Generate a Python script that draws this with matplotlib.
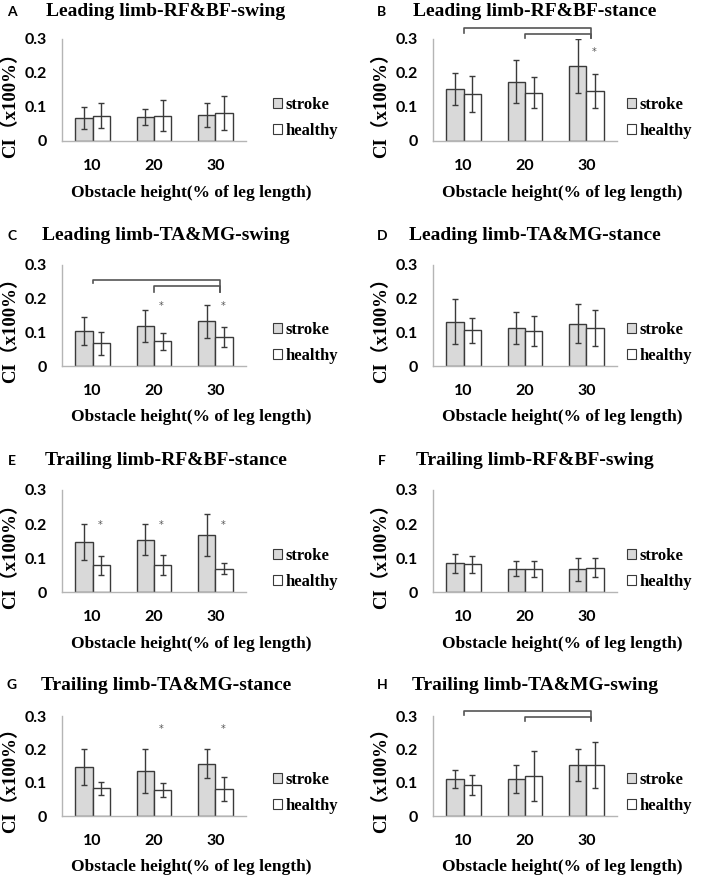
import numpy as np
import matplotlib
matplotlib.use('Agg')
import matplotlib.pyplot as plt
from matplotlib.patches import Patch

heights = ['10', '20', '30']
letters = ['A', 'B', 'C', 'D', 'E', 'F', 'G', 'H']
titles = ['Leading limb-RF&BF-swing', 'Leading limb-RF&BF-stance',
          'Leading limb-TA&MG-swing', 'Leading limb-TA&MG-stance',
          'Trailing limb-RF&BF-stance', 'Trailing limb-RF&BF-swing',
          'Trailing limb-TA&MG-stance', 'Trailing limb-TA&MG-swing']

stroke_mean = [[0.068, 0.071, 0.077], [0.153, 0.174, 0.220],
               [0.103, 0.119, 0.133], [0.131, 0.113, 0.126],
               [0.147, 0.154, 0.167], [0.084, 0.069, 0.067],
               [0.147, 0.135, 0.157], [0.111, 0.111, 0.153]]
stroke_sd = [[0.032, 0.024, 0.035], [0.046, 0.063, 0.080],
             [0.042, 0.048, 0.049], [0.067, 0.048, 0.057],
             [0.054, 0.045, 0.061], [0.027, 0.023, 0.034],
             [0.054, 0.066, 0.043], [0.027, 0.042, 0.048]]
healthy_mean = [[0.075, 0.075, 0.082], [0.137, 0.142, 0.147],
                [0.067, 0.074, 0.086], [0.106, 0.104, 0.113],
                [0.079, 0.079, 0.069], [0.082, 0.067, 0.072],
                [0.083, 0.078, 0.081], [0.093, 0.121, 0.154]]
healthy_sd = [[0.036, 0.045, 0.050], [0.053, 0.046, 0.051],
              [0.033, 0.025, 0.031], [0.037, 0.045, 0.053],
              [0.028, 0.029, 0.016], [0.025, 0.024, 0.027],
              [0.020, 0.022, 0.035], [0.031, 0.075, 0.069]]

# significance stars: (group index, y)
stars = [[], [(2, 0.262)], [(1, 0.178), (2, 0.178)], [],
         [(0, 0.198), (1, 0.198), (2, 0.198)], [],
         [(1, 0.262), (2, 0.262)], []]
# brackets: (left group, top y, left drop y, right drop y)
brackets = [[], [(0, 0.332, 0.318, 0.303), (1, 0.315, 0.303, 0.303)],
            [(0, 0.255, 0.246, 0.220), (1, 0.237, 0.220, 0.220)], [],
            [], [], [],
            [(0, 0.315, 0.303, 0.291), (1, 0.297, 0.285, 0.285)]]

W, H = 707, 876
fig = plt.figure(figsize=(W / 100, H / 100), dpi=100)

col_x = [62, 433]
row_y = [(39, 141), (265, 366), (490, 592), (716, 816)]
title_y = [12, 236, 461, 685]
serif = ['Liberation Serif', 'Noto Sans CJK SC', 'DejaVu Sans']
sans = 'Lato'
x = np.arange(3)
bw = 0.285

for i in range(8):
    r, c = divmod(i, 2)
    top, bot = row_y[r]
    ax = fig.add_axes([col_x[c] / W, 1 - bot / H, 184 / W, (bot - top) / H])
    ax.bar(x - bw / 2, stroke_mean[i], bw, color='#d9d9d9', edgecolor='#3a3a3a', lw=1, zorder=2)
    ax.bar(x + bw / 2, healthy_mean[i], bw, color='white', edgecolor='#3a3a3a', lw=1, zorder=2)
    ax.errorbar(x - bw / 2, stroke_mean[i], yerr=stroke_sd[i], fmt='none',
                ecolor='#3a3a3a', elinewidth=1, capsize=2.5, capthick=1, zorder=3)
    ax.errorbar(x + bw / 2, healthy_mean[i], yerr=healthy_sd[i], fmt='none',
                ecolor='#3a3a3a', elinewidth=1, capsize=2.5, capthick=1, zorder=3)
    for g, yy in stars[i]:
        ax.text(g + 0.12, yy, '*', ha='center', va='center', fontsize=7, color='#555555')
    for g, yt, yl, yr in brackets[i]:
        ax.plot([g, g, 2.07, 2.07], [yl, yt, yt, yr], color='#555555', lw=1.2,
                clip_on=False, zorder=4)
    ax.set_xlim(-0.5, 2.5)
    ax.set_ylim(0, 0.3)
    ax.set_yticks([0, 0.1, 0.2, 0.3])
    ax.set_yticklabels(['0', '0.1', '0.2', '0.3'])
    ax.set_xticks(x)
    ax.set_xticklabels(heights)
    for lab in ax.get_xticklabels() + ax.get_yticklabels():
        lab.set_fontfamily(sans)
        lab.set_fontweight('bold')
        lab.set_fontsize(11.5)
    ax.tick_params(length=0)
    ax.tick_params(axis='y', pad=11)
    ax.tick_params(axis='x', pad=13)
    for s in ['top', 'right']:
        ax.spines[s].set_visible(False)
    for s in ['left', 'bottom']:
        ax.spines[s].set_color('#b5b5b5')
        ax.spines[s].set_linewidth(1)
    ax.set_ylabel('CI（x100%）', family=serif, fontweight='bold', fontsize=13.5)
    ax.yaxis.set_label_coords(-0.235, 0.40)
    ax.set_xlabel('Obstacle height(% of leg length)', family=serif,
                  fontweight='bold', fontsize=12.5)
    ax.xaxis.set_label_coords(0.70, -0.43)
    handles = [Patch(facecolor='#d9d9d9', edgecolor='#3a3a3a', lw=0.8),
               Patch(facecolor='white', edgecolor='#3a3a3a', lw=0.8)]
    lx = 1.10 if c == 0 else 1.01
    ax.legend(handles, ['stroke', 'healthy'], loc='center left',
              bbox_to_anchor=(lx, 0.23), frameon=False, borderpad=0,
              handlelength=0.55, handleheight=0.55, handletextpad=0.2,
              labelspacing=0.6, prop={'family': serif, 'weight': 'bold', 'size': 12})
    tx = 166 if c == 0 else 535
    fig.text(tx / W, 1 - title_y[r] / H, titles[i], ha='center', va='center',
             family=serif, fontweight='bold', fontsize=14)
    lxp = 12 if c == 0 else 382
    fig.text(lxp / W, 1 - title_y[r] / H, letters[i], ha='center', va='center',
             family=sans, fontweight='bold', fontsize=10)

fig.savefig('out.png', dpi=100, facecolor='white')
